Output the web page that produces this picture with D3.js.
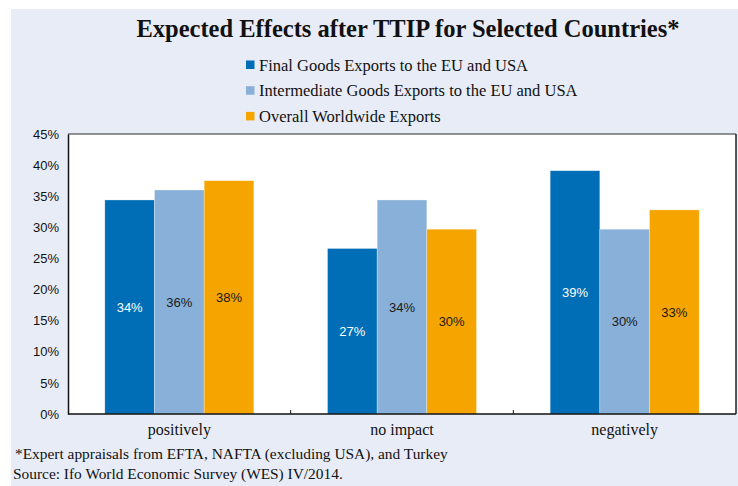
<!DOCTYPE html>
<html>
<head>
<meta charset="utf-8">
<script src="https://cdn.jsdelivr.net/npm/d3@7"></script>
<style>
  html, body { margin: 0; padding: 0; background: #ffffff; }
  svg { display: block; }
</style>
</head>
<body>
<svg id="chart" width="738" height="486"></svg>
<script>
// Share of experts expecting each effect, by export type (percent)
const categories = ["positively", "no impact", "negatively"];
const seriesNames = [
  "Final Goods Exports to the EU and USA",
  "Intermediate Goods Exports to the EU and USA",
  "Overall Worldwide Exports"
];
const finalGoods = [34.4, 26.6, 39.1];
const intermediateGoods = [36.0, 34.4, 29.7];
const worldwide = [37.5, 29.7, 32.8];
const yTicks = [0, 5, 10, 15, 20, 25, 30, 35, 40, 45];
const colors = ["#006eb6", "#88b0d8", "#f5a400"];
const labelColors = ["#ffffff", "#1a1a1a", "#1a1a1a"];

const seriesValues = [finalGoods, intermediateGoods, worldwide];

const svg = d3.select("#chart");
const W = 738, H = 486;

// Panel background
svg.append("rect")
  .attr("x", 11).attr("y", 9)
  .attr("width", W - 11).attr("height", H - 9)
  .attr("fill", "#e8ecf7");

const plot = { left: 68, right: 736, top: 134, bottom: 414 };

const x0 = d3.scaleBand()
  .domain(categories)
  .range([plot.left, plot.right])
  .paddingInner(0)
  .paddingOuter(0);

const groupWidth = 149;
const x1 = d3.scaleBand()
  .domain(d3.range(seriesNames.length))
  .range([0, groupWidth])
  .padding(0);

const y = d3.scaleLinear()
  .domain([0, 45])
  .range([plot.bottom, plot.top]);

// Plot area
svg.append("rect")
  .attr("x", plot.left).attr("y", plot.top)
  .attr("width", plot.right - plot.left).attr("height", plot.bottom - plot.top)
  .attr("fill", "#ffffff");

// Bars
const groups = svg.append("g").selectAll("g")
  .data(categories)
  .join("g")
  .attr("transform", c => `translate(${x0(c) + (x0.bandwidth() - groupWidth) / 2},0)`);

groups.selectAll("rect")
  .data((c, ci) => seriesValues.map((vals, si) => ({ si, v: vals[ci] })))
  .join("rect")
  .attr("x", d => x1(d.si))
  .attr("y", d => y(d.v))
  .attr("width", x1.bandwidth())
  .attr("height", d => y(0) - y(d.v))
  .attr("fill", d => colors[d.si])
  .attr("stroke", "#ffffff")
  .attr("stroke-opacity", 0.5)
  .attr("stroke-width", 0.6);

groups.selectAll("text")
  .data((c, ci) => seriesValues.map((vals, si) => ({ si, v: vals[ci] })))
  .join("text")
  .attr("x", d => x1(d.si) + x1.bandwidth() / 2)
  .attr("y", d => (y(d.v) + y(0)) / 2)
  .attr("dy", "0.35em")
  .attr("text-anchor", "middle")
  .attr("font-family", "Liberation Sans, Arial, sans-serif")
  .attr("font-size", 13)
  .attr("fill", d => labelColors[d.si])
  .text(d => Math.round(d.v) + "%");

// Frame: top and right edges
svg.append("line")
  .attr("x1", plot.left).attr("x2", plot.right)
  .attr("y1", plot.top).attr("y2", plot.top)
  .attr("stroke", "#6e6e6e").attr("stroke-width", 1.5);
svg.append("line")
  .attr("x1", plot.right).attr("x2", plot.right)
  .attr("y1", plot.top).attr("y2", plot.bottom)
  .attr("stroke", "#222222").attr("stroke-width", 1.5);

// Y axis
const yAxis = d3.axisLeft(y)
  .tickValues(yTicks)
  .tickSize(0)
  .tickPadding(9)
  .tickFormat(d => d + "%");
const gy = svg.append("g")
  .attr("transform", `translate(${plot.left},0)`)
  .call(yAxis);
gy.select(".domain").attr("stroke", "#111111").attr("stroke-width", 1.5);
gy.selectAll("text")
  .attr("font-family", "Liberation Sans, Arial, sans-serif")
  .attr("font-size", 13)
  .attr("fill", "#111111");

// X axis with boundary ticks pointing up
const gx = svg.append("g")
  .attr("transform", `translate(0,${plot.bottom})`);
gx.append("line")
  .attr("x1", plot.left).attr("x2", plot.right)
  .attr("y1", 0).attr("y2", 0)
  .attr("stroke", "#111111").attr("stroke-width", 1.5);
gx.selectAll("line.tick")
  .data(categories.slice(1))
  .join("line")
  .attr("class", "tick")
  .attr("x1", c => x0(c)).attr("x2", c => x0(c))
  .attr("y1", 0).attr("y2", -4)
  .attr("stroke", "#111111").attr("stroke-width", 1);
gx.selectAll("text")
  .data(categories)
  .join("text")
  .attr("x", c => x0(c) + x0.bandwidth() / 2)
  .attr("y", 21)
  .attr("text-anchor", "middle")
  .attr("font-family", "Liberation Serif, Times New Roman, serif")
  .attr("font-size", 16)
  .attr("fill", "#111111")
  .text(c => c);

// Title
svg.append("text")
  .attr("x", 408).attr("y", 37)
  .attr("text-anchor", "middle")
  .attr("font-family", "Liberation Serif, Times New Roman, serif")
  .attr("font-weight", "bold")
  .attr("font-size", 24.5)
  .attr("fill", "#111111")
  .text("Expected Effects after TTIP for Selected Countries*");

// Legend
const legend = svg.append("g").selectAll("g")
  .data(seriesNames)
  .join("g")
  .attr("transform", (d, i) => `translate(246,${65 + i * 25.7})`);
legend.append("rect")
  .attr("x", 0).attr("y", -4.5)
  .attr("width", 8.5).attr("height", 8.5)
  .attr("fill", (d, i) => colors[i]);
legend.append("text")
  .attr("x", 13).attr("y", 0)
  .attr("dy", "0.35em")
  .attr("font-family", "Liberation Serif, Times New Roman, serif")
  .attr("font-size", 16.5)
  .attr("fill", "#111111")
  .text(d => d);

// Footnotes
const notes = [
  "*Expert appraisals from EFTA, NAFTA (excluding USA), and Turkey",
  "Source: Ifo World Economic Survey (WES) IV/2014."
];
svg.append("g").selectAll("text")
  .data(notes)
  .join("text")
  .attr("x", (d, i) => i === 0 ? 15 : 13)
  .attr("y", (d, i) => 459 + i * 19.5)
  .attr("font-family", "Liberation Serif, Times New Roman, serif")
  .attr("font-size", 15.4)
  .attr("fill", "#111111")
  .text(d => d);
</script>
</body>
</html>
